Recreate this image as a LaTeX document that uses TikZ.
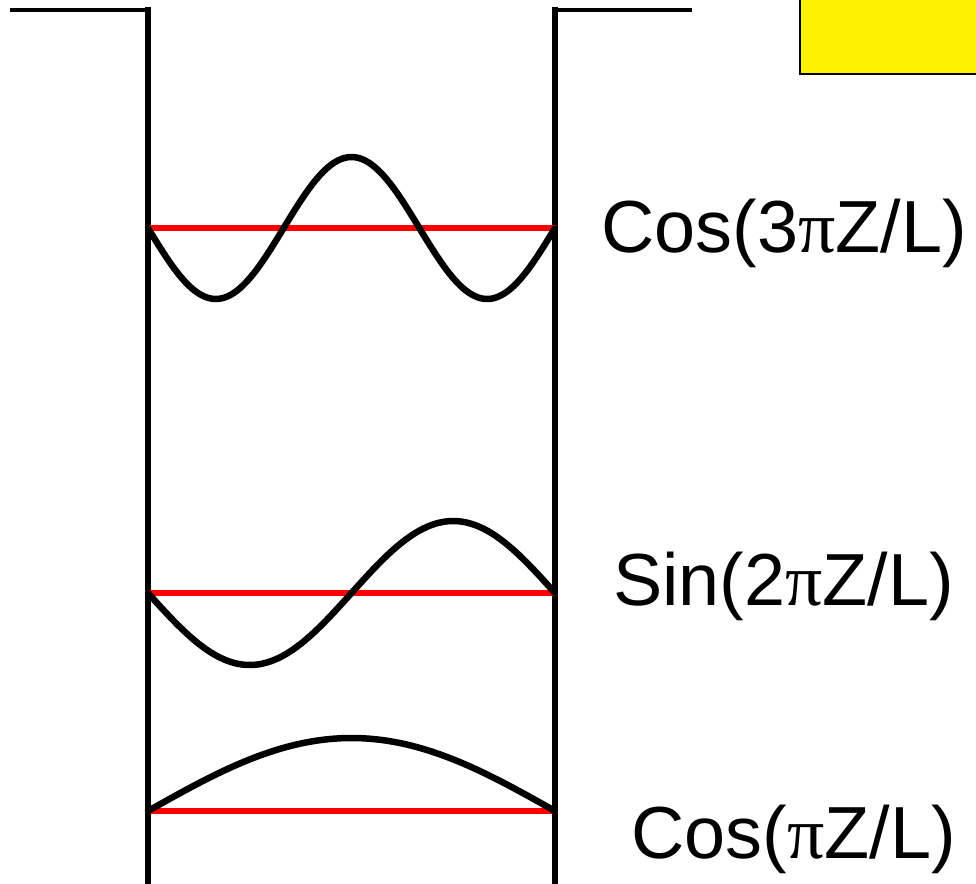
\documentclass[tikz,border=0pt]{standalone}
\usepackage{fontspec}
\setmainfont{Liberation Sans}
\newfontfamily\pifont{Liberation Serif}
\newcommand{\PI}{{\pifont π}}

\begin{document}
\begin{tikzpicture}[x=0.02cm, y=-0.02cm,
	wall/.style={line width=6pt*0.5688, line cap=rect},
	rim/.style={line width=3.5pt*0.5688},
	level/.style={red, line width=6pt*0.5688, line cap=round},
	wave/.style={line width=6.5pt*0.5688, line join=round, line cap=round},
	lbl/.style={anchor=base west, inner sep=0pt, font=\fontsize{42}{48}\selectfont}]
	\useasboundingbox (0,0) rectangle (976,883);
	% box and yellow tag
	\coordinate (tl) at (10,10); \coordinate (lt) at (148,10); \coordinate (lb) at (148,886);
	\coordinate (rt) at (555,10); \coordinate (rb) at (555,886); \coordinate (tr) at (692,10);
	\draw[rim] (tl) -- (lt);
	\draw[rim] (rt) -- (tr);
	\draw[wall] (lt) -- (lb);
	\draw[wall] (rt) -- (rb);
	\draw[fill=yellow, line width=1.2pt] (800,-5) rectangle (990,74);
	% levels
	\foreach \n/\y in {c/811, s/593, t/228} {\coordinate (\n L) at (148,\y); \coordinate (\n R) at (555,\y); \draw[level] (\n L) -- (\n R);}
	% standing waves
	\draw[wave] plot[smooth, domain=0:1, samples=80] ({148+407*\x}, {228-71*cos(540*(\x-0.5))});
	\draw[wave] plot[smooth, domain=0:1, samples=80] ({148+407*\x}, {593-72*sin(360*(\x-0.5))});
	\draw[wave] plot[smooth, domain=0:1, samples=60] ({148+407*\x}, {811-73*cos(180*(\x-0.5))});
	\node[lbl] (cos3) at (601,252) {Cos(3\PI Z/L)};
	\node[lbl] (sin2) at (613,605) {Sin(2\PI Z/L)};
	\node[lbl] (cos1) at (631,858) {Cos(\PI Z/L)};
\end{tikzpicture}
\end{document}
